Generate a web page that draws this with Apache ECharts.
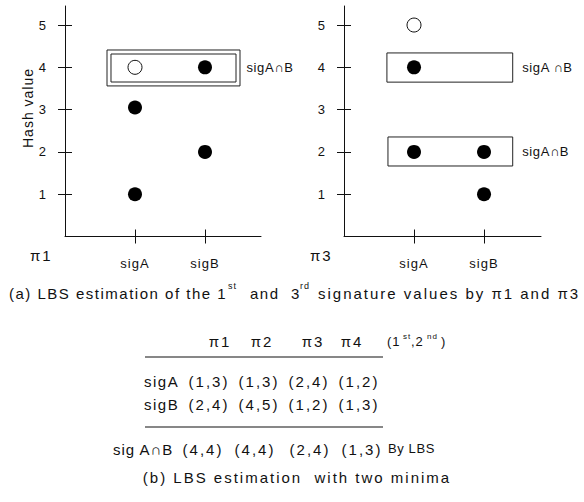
<!DOCTYPE html>
<html><head><meta charset="utf-8">
<script src="https://cdn.jsdelivr.net/npm/echarts@6/dist/echarts.min.js"></script>
<style>
html,body{margin:0;padding:0;background:#fff;}
#c{width:584px;height:502px;}
text[style*="zqa"]{letter-spacing:1px}
text[style*="zqb"]{letter-spacing:1.5px}
text[style*="zqc"]{letter-spacing:2px}
text[style*="zqd"]{letter-spacing:3px}
text[style*="zqe"]{letter-spacing:0.6px}
</style></head><body><div id="c"></div><script>
// ---- data ----
const categories = ['sigA', 'sigB'];
const yTickValues = [1, 2, 3, 4, 5];
const pi1Filled = [[1, 1], [1, 3.05], [2, 2], [2, 4]];
const pi1Open = [[1, 4]];
const pi3Filled = [[1, 4], [1, 2], [2, 2], [2, 1]];
const pi3Open = [[1, 5]];
const pi1Boxes = [
  { name: 'sigA\u2229B', from: [0.6, 3.56], to: [2.5, 4.41] },
  { name: '', from: [0.657, 3.653], to: [2.443, 4.315] }
];
const pi3Boxes = [
  { name: 'sigA \u2229B', from: [0.613, 3.65], to: [2.41, 4.34] },
  { name: 'sigA\u2229B', from: [0.628, 1.667], to: [2.41, 2.353] }
];
const permutations = ['\u03c01', '\u03c02', '\u03c03', '\u03c04'];
const rowNames = ['sigA', 'sigB'];
const sigAPairs = [[1, 3], [1, 3], [2, 4], [1, 2]];
const sigBPairs = [[2, 4], [4, 5], [1, 2], [1, 3]];
const lbsPairs = [[4, 4], [4, 4], [2, 4], [1, 3]];

// ---- chart ----
const INK = '#111';
const FF = (tag) => tag + ', Liberation Sans, Arial, sans-serif';
const chart = echarts.init(document.getElementById('c'), null, { renderer: 'svg' });

function xAxes(gi, max) {
  return [
    { gridIndex: gi, type: 'value', min: 0, max: max, interval: 1,
      axisLine: { lineStyle: { color: INK, width: 1 } },
      axisTick: { customValues: [1, 2], length: 7, lineStyle: { color: INK } },
      axisLabel: { customValues: [1, 2], formatter: v => categories[v - 1] || '', margin: 20,
        fontSize: 13, color: INK, fontFamily: FF('zqa') },
      splitLine: { show: false } },
    { gridIndex: gi, type: 'value', min: 0, max: max, interval: 1, position: 'bottom',
      axisLine: { show: false },
      axisTick: { customValues: [1, 2], inside: true, length: 7, lineStyle: { color: INK } },
      axisLabel: { show: false }, splitLine: { show: false } }
  ];
}
function yAxes(gi) {
  return [
    { gridIndex: gi, type: 'value', min: 0, max: 5.45, interval: 1, position: 'left',
      axisLine: { show: true, lineStyle: { color: INK, width: 1 } },
      axisTick: { show: true, customValues: yTickValues, length: 7, lineStyle: { color: INK } },
      axisLabel: { customValues: yTickValues, margin: 18, fontSize: 13, color: INK, fontFamily: FF('zqa') },
      splitLine: { show: false } },
    { gridIndex: gi, type: 'value', min: 0, max: 5.45, interval: 1, position: 'left',
      axisLine: { show: false },
      axisTick: { show: true, customValues: yTickValues, inside: true, length: 7, lineStyle: { color: INK } },
      axisLabel: { show: false }, splitLine: { show: false } }
  ];
}
function boxes(list, dist) {
  return {
    silent: true,
    itemStyle: { color: 'rgba(0,0,0,0)', borderColor: '#222', borderWidth: 1 },
    label: { show: true, position: 'right', distance: dist, color: INK, fontSize: 13, fontFamily: FF('zqe') },
    data: list.map(b => [{ name: b.name, coord: b.from }, { coord: b.to }])
  };
}
function scatter(gi, data, open, mark) {
  const s = {
    type: 'scatter', xAxisIndex: gi * 2, yAxisIndex: gi * 2, data: data, symbol: 'circle', symbolSize: 14,
    itemStyle: open ? { color: '#fff', borderColor: INK, borderWidth: 1, opacity: 1 } : { color: '#000', opacity: 1 },
    silent: true, z: 5
  };
  if (mark) { s.markArea = mark; }
  return s;
}

const g = [];
function txt(x, y, text, size, tag, align, extra) {
  g.push(Object.assign({ type: 'text', x: x, y: y, silent: true,
    style: { text: text, fontSize: size, fontFamily: FF(tag), fill: INK,
      textAlign: align || 'left', textVerticalAlign: 'middle' } }, extra || {}));
}
function line(x1, x2, y) {
  g.push({ type: 'line', silent: true, shape: { x1: x1, y1: y, x2: x2, y2: y },
    style: { stroke: INK, lineWidth: 1.2 } });
}
// panel annotations
txt(28, 108, 'Hash value', 14, 'zqa', 'center', { rotation: Math.PI / 2 });
txt(30, 255, '\u03c01', 15, 'zqc', 'left');
txt(310, 255, '\u03c03', 15, 'zqc', 'left');
// caption (a)
txt(9, 293, '(a) LBS estimation of the 1', 15, 'zqb');
txt(228, 286, 'st', 9, 'zqa');
txt(250, 293, 'and', 15, 'zqb');
txt(291, 293, '3', 15, 'zqb');
txt(300, 286, 'rd', 9, 'zqa');
txt(318, 293, 'signature values by \u03c01 and \u03c03', 15, 'zqc');
// table
const headX = [220, 262, 313, 352];
const colX = [209, 259, 309, 359];
const colX2 = [203, 255, 310, 362];
permutations.forEach((p, i) => txt(headX[i], 341, p, 15, 'zqc', 'center'));
txt(387, 341, '(1', 13, 'zqa');
txt(403, 336, 'st', 8, 'zqa');
txt(411, 341, ',2', 13, 'zqa');
txt(427, 336, 'nd', 8, 'zqa');
txt(441, 341, ')', 13, 'zqa');
line(145, 383, 357);
const fmt = p => '(' + p[0] + ',' + p[1] + ')';
[sigAPairs, sigBPairs].forEach((row, r) => {
  const y = r === 0 ? 381 : 404;
  txt(144, y, rowNames[r], 15, 'zqb');
  row.forEach((p, i) => txt(colX[i], y, fmt(p), 15, 'zqc', 'center'));
});
line(145, 383, 427);
txt(113, 449, 'sig A\u2229B', 15, 'zqa');
lbsPairs.forEach((p, i) => txt(colX2[i], 449, fmt(p), 15, 'zqc', 'center'));
txt(388, 448, 'By LBS', 13, 'zqe');
txt(297, 477, '(b) LBS estimation  with two minima', 15, 'zqc', 'center');

chart.setOption({
  animation: false,
  backgroundColor: '#fff',
  grid: [
    { left: 65, top: 6, width: 196, height: 230.5 },
    { left: 344, top: 6, width: 197, height: 230.5 }
  ],
  xAxis: xAxes(0, 2.8).concat(xAxes(1, 2.814)),
  yAxis: yAxes(0).concat(yAxes(1)),
  series: [
    scatter(0, pi1Filled, false, boxes(pi1Boxes, 6)),
    scatter(0, pi1Open, true),
    scatter(1, pi3Filled, false, boxes(pi3Boxes, 9)),
    scatter(1, pi3Open, true)
  ],
  graphic: g
});
</script></body></html>
